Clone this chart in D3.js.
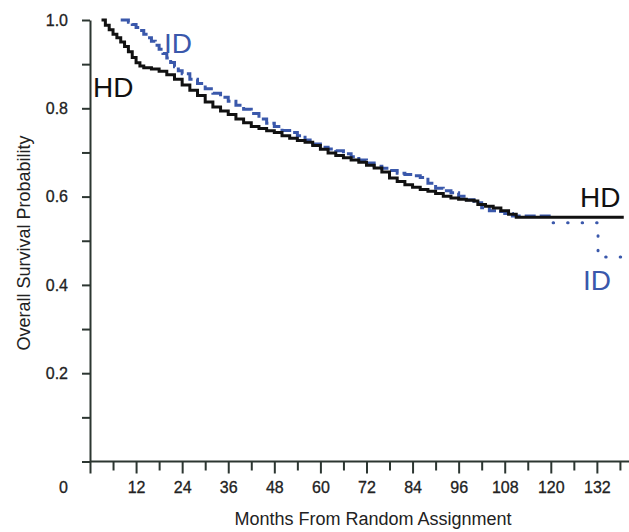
<!DOCTYPE html>
<html>
<head>
<meta charset="utf-8">
<script src="https://cdn.jsdelivr.net/npm/d3@7"></script>
<style>
  html, body { margin: 0; padding: 0; background: #fff; }
  svg { display: block; font-family: "Liberation Sans", Arial, Helvetica, sans-serif; }
</style>
</head>
<body>
<svg id="chart" width="629" height="532"></svg>
<script>
// Kaplan-Meier overall survival, HD vs ID arm (months from random assignment)
const hdMonths = [3, 4, 5, 6, 7, 8, 9, 10, 11, 12, 13, 14, 16, 18, 20, 22, 24, 26, 28, 30,
  32, 34, 36, 38, 40, 42, 44, 46, 48, 50, 52, 54, 56, 58, 60, 62, 64, 66, 68, 70,
  72, 74, 76, 78, 80, 82, 84, 86, 88, 90, 92, 94, 96, 98, 100, 101, 103, 105, 107, 109, 111, 139];
const hdSurvival = [1.000, 0.988, 0.978, 0.968, 0.960, 0.950, 0.940, 0.928, 0.915, 0.903, 0.896, 0.892, 0.889, 0.884, 0.876, 0.866, 0.853, 0.841, 0.829, 0.814,
  0.803, 0.794, 0.786, 0.776, 0.767, 0.759, 0.754, 0.749, 0.745, 0.738, 0.732, 0.727, 0.723, 0.716, 0.707, 0.699, 0.693, 0.688, 0.683, 0.678,
  0.671, 0.665, 0.656, 0.642, 0.634, 0.627, 0.621, 0.616, 0.612, 0.607, 0.601, 0.597, 0.594, 0.592, 0.590, 0.582, 0.578, 0.574, 0.568, 0.560, 0.553, 0.553];

const idMonths = [8, 10, 11, 12, 13, 14, 15, 16, 17, 18, 19, 20, 21, 22, 23, 24, 26, 28, 30, 32,
  34, 36, 38, 40, 42, 44, 46, 48, 50, 52, 54, 56, 58, 60, 62, 64, 66, 68, 70, 72,
  74, 76, 78, 80, 82, 84, 86, 88, 90, 92, 94, 96, 98, 100, 102, 104, 106, 108, 110, 120.6];
const idSurvival = [1.000, 0.995, 0.990, 0.983, 0.976, 0.968, 0.960, 0.952, 0.943, 0.934, 0.924, 0.914, 0.904, 0.894, 0.885, 0.878, 0.866, 0.856, 0.844, 0.834,
  0.825, 0.816, 0.807, 0.798, 0.788, 0.776, 0.766, 0.759, 0.750, 0.745, 0.738, 0.728, 0.719, 0.712, 0.708, 0.704, 0.697, 0.690, 0.683, 0.676,
  0.669, 0.664, 0.659, 0.653, 0.650, 0.647, 0.643, 0.630, 0.619, 0.613, 0.609, 0.601, 0.593, 0.586, 0.575, 0.568, 0.566, 0.562, 0.556, 0.556];

// sparse tail of the ID curve, drawn dotted
const idTailMonths = [120.6, 132.3, 139];
const idTailSurvival = [0.541, 0.463, 0.463];

const yTickValues = [0, 0.1, 0.2, 0.3, 0.4, 0.5, 0.6, 0.7, 0.8, 0.9, 1.0];
const yTickLabels = ["", "", "0.2", "", "0.4", "", "0.6", "", "0.8", "", "1.0"];
const xTickValues = d3.range(0, 139, 6);
const xTickLabels = ["0", "12", "24", "36", "48", "60", "72", "84", "96", "108", "120", "132"];

const seriesNames = ["HD", "ID"];
const xTitle = "Months From Random Assignment";
const yTitle = "Overall Survival Probability";

const svg = d3.select("#chart");
const axisColor = "#2c3631";
const textColor = "#222222";
const hdColor = "#111111";
const idColor = "#3a58ab";

const x = d3.scaleLinear().domain([0, 140]).range([90, 627.6]);
const y = d3.scaleLinear().domain([0, 1]).range([461.5, 20]);

// y axis
const yAxis = d3.axisLeft(y)
  .tickValues(yTickValues)
  .tickFormat((d, i) => yTickLabels[i])
  .tickSize(8)
  .tickSizeOuter(0)
  .tickPadding(14);
const gy = svg.append("g").attr("transform", `translate(${x(0)},0)`).call(yAxis);
gy.select(".domain").attr("stroke", axisColor).attr("stroke-width", 2);
gy.selectAll(".tick line").attr("stroke", axisColor).attr("stroke-width", 2);
gy.selectAll(".tick text").attr("fill", textColor).attr("font-size", 16)
  .attr("stroke", textColor).attr("stroke-width", 0.3)
  .attr("font-family", "'Liberation Sans', Arial, sans-serif");

// x axis
const labelFor = d => (d % 12 === 0 ? String(d) : "");
const xAxis = d3.axisBottom(x)
  .tickValues(xTickValues)
  .tickFormat(d => xTickLabels.includes(labelFor(d)) ? labelFor(d) : "")
  .tickSize(12)
  .tickSizeOuter(0)
  .tickPadding(8);
const gx = svg.append("g").attr("transform", `translate(0,${y(0)})`).call(xAxis);
gx.select(".domain").attr("stroke", axisColor).attr("stroke-width", 2);
gx.selectAll(".tick line").attr("stroke", axisColor).attr("stroke-width", 2)
  .attr("y2", d => (d % 12 === 0 ? 12 : 9));
gx.selectAll(".tick text").attr("fill", textColor).attr("font-size", 16)
  .attr("stroke", textColor).attr("stroke-width", 0.3)
  .attr("font-family", "'Liberation Sans', Arial, sans-serif");
// origin label sits out at the corner
gx.selectAll(".tick").filter(d => d === 0).select("text").attr("dx", -27);

// extend the x axis line to the right edge
gx.select(".domain").attr("d", `M${x(0)},0H629`);

// curves
const line = d3.line()
  .x(d => x(d[0]))
  .y(d => y(d[1]))
  .curve(d3.curveStepAfter);

const hdData = hdMonths.map((m, i) => [m, hdSurvival[i]]);
const idData = idMonths.map((m, i) => [m, idSurvival[i]]);
const idTail = idTailMonths.map((m, i) => [m, idTailSurvival[i]]);

svg.append("path").datum(idData)
  .attr("d", line)
  .attr("fill", "none")
  .attr("stroke", idColor)
  .attr("stroke-width", 3)
  .attr("stroke-dasharray", "11,4");

svg.append("path").datum(hdData)
  .attr("d", line)
  .attr("fill", "none")
  .attr("stroke", hdColor)
  .attr("stroke-width", 3);

svg.append("path").datum(idTail)
  .attr("d", line)
  .attr("fill", "none")
  .attr("stroke", idColor)
  .attr("stroke-width", 3)
  .attr("stroke-linecap", "round")
  .attr("stroke-dasharray", "0.5,14");

// series labels
const lbl = svg.append("g").attr("font-family", "'Liberation Sans', Arial, sans-serif").attr("font-size", 28);
lbl.append("text").attr("x", 93).attr("y", 97).attr("fill", hdColor).text(seriesNames[0]);
lbl.append("text").attr("x", 164).attr("y", 53).attr("fill", idColor).text(seriesNames[1]);
lbl.append("text").attr("x", 580).attr("y", 207).attr("fill", hdColor).text(seriesNames[0]);
lbl.append("text").attr("x", 583).attr("y", 290).attr("fill", idColor).text(seriesNames[1]);

// axis titles
svg.append("text")
  .attr("x", 373).attr("y", 525)
  .attr("text-anchor", "middle")
  .attr("font-size", 18)
  .attr("fill", textColor)
  .text(xTitle);

svg.append("text")
  .attr("transform", "translate(30,243) rotate(-90)")
  .attr("text-anchor", "middle")
  .attr("font-size", 18)
  .attr("fill", textColor)
  .text(yTitle);
</script>
</body>
</html>
